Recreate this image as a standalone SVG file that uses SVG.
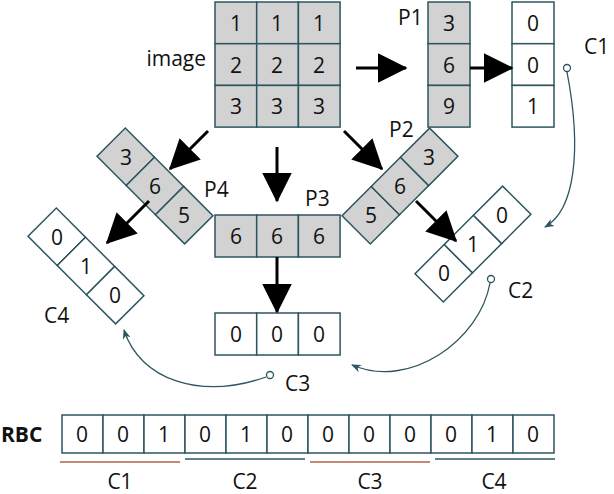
<svg xmlns="http://www.w3.org/2000/svg" width="614" height="494" viewBox="0 0 614 494">
<style>
.g{fill:#d2d2d2;stroke:#2d5560;stroke-width:1.5}
.w{fill:#fff;stroke:#2d5560;stroke-width:1.5}
text{font-family:"Open Sans","DejaVu Sans",sans-serif;font-size:21px;fill:#111}
.c{text-anchor:middle;dominant-baseline:central}
.thick{stroke:#000;stroke-width:3;fill:none}
.thin{stroke:#2d5560;stroke-width:1.3;fill:none}
</style>
<defs>
<marker id="big" viewBox="0 0 10 10" refX="9.5" refY="5" markerWidth="30" markerHeight="30" markerUnits="userSpaceOnUse" orient="auto"><path d="M0,0L10,5L0,10Z" fill="#000"/></marker>
<marker id="sm" viewBox="0 0 10 10" refX="9" refY="5" markerWidth="10" markerHeight="10" markerUnits="userSpaceOnUse" orient="auto"><path d="M0,1L10,5L0,9L3,5Z" fill="#2d5560"/></marker>
</defs>
<rect width="614" height="494" fill="#fff"/>
<g id="image">
<rect class="g" x="215" y="2" width="41.7" height="41.7"/><rect class="g" x="256.7" y="2" width="41.7" height="41.7"/><rect class="g" x="298.4" y="2" width="41.7" height="41.7"/>
<rect class="g" x="215" y="43.7" width="41.7" height="41.7"/><rect class="g" x="256.7" y="43.7" width="41.7" height="41.7"/><rect class="g" x="298.4" y="43.7" width="41.7" height="41.7"/>
<rect class="g" x="215" y="85.4" width="41.7" height="41.7"/><rect class="g" x="256.7" y="85.4" width="41.7" height="41.7"/><rect class="g" x="298.4" y="85.4" width="41.7" height="41.7"/>
<text class="c" x="236" y="23">1</text><text class="c" x="277" y="23">1</text><text class="c" x="319" y="23">1</text>
<text class="c" x="236" y="65">2</text><text class="c" x="277" y="65">2</text><text class="c" x="319" y="65">2</text>
<text class="c" x="236" y="106">3</text><text class="c" x="277" y="106">3</text><text class="c" x="319" y="106">3</text>
<text x="206" y="66" text-anchor="end">image</text>
</g>
<g id="P1">
<rect class="g" x="428" y="2" width="42" height="41.7"/><rect class="g" x="428" y="43.7" width="42" height="41.7"/><rect class="g" x="428" y="85.4" width="42" height="41.7"/>
<text class="c" x="449" y="23">3</text><text class="c" x="449" y="65">6</text><text class="c" x="449" y="106">9</text>
<text x="398" y="25">P1</text>
</g>
<g id="C1">
<rect class="w" x="512" y="2" width="42" height="41.7"/><rect class="w" x="512" y="43.7" width="42" height="41.7"/><rect class="w" x="512" y="85.4" width="42" height="41.7"/>
<text class="c" x="533" y="23">0</text><text class="c" x="533" y="65">0</text><text class="c" x="533" y="106">1</text>
<text x="584" y="54">C1</text>
</g>
<g id="P3">
<rect class="g" x="215" y="215" width="41.7" height="42"/><rect class="g" x="256.7" y="215" width="41.7" height="42"/><rect class="g" x="298.4" y="215" width="41.7" height="42"/>
<text class="c" x="236" y="236">6</text><text class="c" x="277" y="236">6</text><text class="c" x="319" y="236">6</text>
<text x="305" y="206">P3</text>
</g>
<g id="C3">
<rect class="w" x="215" y="313" width="41.7" height="42"/><rect class="w" x="256.7" y="313" width="41.7" height="42"/><rect class="w" x="298.4" y="313" width="41.7" height="42"/>
<text class="c" x="236" y="334">0</text><text class="c" x="277" y="334">0</text><text class="c" x="319" y="334">0</text>
<text x="285" y="391">C3</text>
</g>
<g id="P2">
<g transform="translate(400,186) rotate(-45)">
<rect class="g" x="-62" y="-20" width="41.3" height="40"/><rect class="g" x="-20.7" y="-20" width="41.3" height="40"/><rect class="g" x="20.6" y="-20" width="41.3" height="40"/>
</g>
<text class="c" x="371" y="215">5</text><text class="c" x="400" y="186">6</text><text class="c" x="429" y="157">3</text>
<text x="389" y="137">P2</text>
</g>
<g id="P4">
<g transform="translate(155,186) rotate(45)">
<rect class="g" x="-62" y="-20" width="41.3" height="40"/><rect class="g" x="-20.7" y="-20" width="41.3" height="40"/><rect class="g" x="20.6" y="-20" width="41.3" height="40"/>
</g>
<text class="c" x="126" y="157">3</text><text class="c" x="155" y="186">6</text><text class="c" x="184" y="215">5</text>
<text x="204" y="197">P4</text>
</g>
<g id="C2">
<g transform="translate(473,244) rotate(-45)">
<rect class="w" x="-62" y="-20" width="41.3" height="40"/><rect class="w" x="-20.7" y="-20" width="41.3" height="40"/><rect class="w" x="20.6" y="-20" width="41.3" height="40"/>
</g>
<text class="c" x="444" y="273">0</text><text class="c" x="473" y="244">1</text><text class="c" x="502" y="215">0</text>
<text x="508" y="298">C2</text>
</g>
<g id="C4">
<g transform="translate(86,266) rotate(45)">
<rect class="w" x="-62" y="-20" width="41.3" height="40"/><rect class="w" x="-20.7" y="-20" width="41.3" height="40"/><rect class="w" x="20.6" y="-20" width="41.3" height="40"/>
</g>
<text class="c" x="57" y="237">0</text><text class="c" x="86" y="266">1</text><text class="c" x="115" y="295">0</text>
<text x="44" y="323">C4</text>
</g>
<g id="RBC">
<text x="1" y="442" style="font-weight:bold">RBC</text>
<g>
<rect class="w" x="62" y="415" width="41" height="38"/><rect class="w" x="103" y="415" width="41" height="38"/><rect class="w" x="144" y="415" width="41" height="38"/>
<rect class="w" x="185" y="415" width="41" height="38"/><rect class="w" x="226" y="415" width="41" height="38"/><rect class="w" x="267" y="415" width="41" height="38"/>
<rect class="w" x="308" y="415" width="41" height="38"/><rect class="w" x="349" y="415" width="41" height="38"/><rect class="w" x="390" y="415" width="41" height="38"/>
<rect class="w" x="431" y="415" width="41" height="38"/><rect class="w" x="472" y="415" width="41" height="38"/><rect class="w" x="513" y="415" width="41" height="38"/>
</g>
<text class="c" x="82" y="434">0</text><text class="c" x="123" y="434">0</text><text class="c" x="164" y="434">1</text>
<text class="c" x="205" y="434">0</text><text class="c" x="246" y="434">1</text><text class="c" x="287" y="434">0</text>
<text class="c" x="328" y="434">0</text><text class="c" x="369" y="434">0</text><text class="c" x="410" y="434">0</text>
<text class="c" x="451" y="434">0</text><text class="c" x="492" y="434">1</text><text class="c" x="533" y="434">0</text>
<line x1="60" y1="462" x2="180" y2="462" stroke="#b0604a" stroke-width="1.5"/>
<line x1="185" y1="459" x2="305" y2="459" stroke="#2d5560" stroke-width="1.5"/>
<line x1="310" y1="462" x2="430" y2="462" stroke="#b0604a" stroke-width="1.5"/>
<line x1="435" y1="459" x2="555" y2="459" stroke="#2d5560" stroke-width="1.5"/>
<text class="c" x="120" y="481">C1</text><text class="c" x="245" y="481">C2</text><text class="c" x="370" y="481">C3</text><text class="c" x="494" y="481">C4</text>
</g>
<g id="connectors">
<line class="thick" x1="356" y1="68" x2="406" y2="68" marker-end="url(#big)"/>
<line class="thick" x1="470" y1="68" x2="512" y2="68" marker-end="url(#big)"/>
<line class="thick" x1="277" y1="147" x2="277" y2="201" marker-end="url(#big)"/>
<line class="thick" x1="277" y1="257" x2="277" y2="312" marker-end="url(#big)"/>
<line class="thick" x1="208" y1="131" x2="170" y2="169" marker-end="url(#big)"/>
<line class="thick" x1="344" y1="131" x2="382" y2="169" marker-end="url(#big)"/>
<line class="thick" x1="149" y1="201" x2="107" y2="243" marker-end="url(#big)"/>
<line class="thick" x1="416" y1="201" x2="456" y2="241" marker-end="url(#big)"/>
<path class="thin" d="M567,72 C582,150 575,210 545,227" marker-end="url(#sm)"/>
<circle cx="567" cy="68" r="3.5" fill="#fff" stroke="#2d5560" stroke-width="1.3"/>
<path class="thin" d="M490,283 C480,340 410,390 352,365" marker-end="url(#sm)"/>
<circle cx="491" cy="279" r="3.5" fill="#fff" stroke="#2d5560" stroke-width="1.3"/>
<path class="thin" d="M266,377 C200,400 140,380 124,330" marker-end="url(#sm)"/>
<circle cx="270" cy="375" r="3.5" fill="#fff" stroke="#2d5560" stroke-width="1.3"/>
</g>
</svg>
